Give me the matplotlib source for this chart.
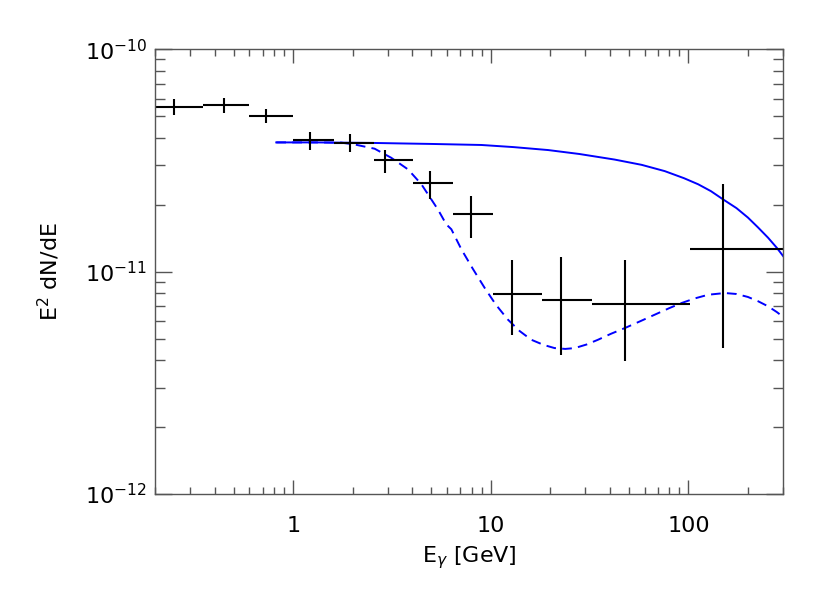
import numpy as np
import matplotlib
matplotlib.use('Agg')
from matplotlib import pyplot as plt
from matplotlib.ticker import FixedLocator, FixedFormatter, LogLocator, NullFormatter, LogFormatterSciNotation

# data points (bin centre, bin edges, flux, error range)
e_cen = [0.249, 0.444, 0.724, 1.21, 1.94, 2.91, 4.94, 7.96, 12.75, 22.7, 47.8, 150.0]
e_lo = [0.2, 0.349, 0.594, 1.0, 1.61, 2.56, 4.04, 6.44, 10.2, 18.2, 32.4, 102.0]
e_hi = [0.349, 0.594, 1.0, 1.61, 2.56, 4.04, 6.44, 10.2, 18.2, 32.4, 102.0, 320.0]
flux = [5.51e-11, 5.6e-11, 5.03e-11, 3.89e-11, 3.78e-11, 3.16e-11, 2.49e-11, 1.81e-11,
        7.96e-12, 7.48e-12, 7.15e-12, 1.27e-11]
flux_up = [6.0e-11, 6.03e-11, 5.37e-11, 4.24e-11, 4.14e-11, 3.52e-11, 2.84e-11, 2.19e-11,
           1.13e-11, 1.16e-11, 1.13e-11, 2.47e-11]
flux_dn = [5.05e-11, 5.15e-11, 4.67e-11, 3.52e-11, 3.45e-11, 2.78e-11, 2.13e-11, 1.42e-11,
           5.2e-12, 4.22e-12, 3.98e-12, 4.53e-12]

# model curves
solid_e = [0.82, 1.3, 1.75, 2.5, 3.5, 5.0, 8.95, 13.0, 19.5, 28.0, 42.3, 58.0, 75.9, 95.0,
           112.0, 130.0, 150.0, 175.0, 200.0, 225.0, 253.0, 280.0, 307.0]
solid_f = [3.81e-11, 3.81e-11, 3.80e-11, 3.79e-11, 3.77e-11, 3.75e-11, 3.71e-11, 3.63e-11,
           3.52e-11, 3.38e-11, 3.19e-11, 3.02e-11, 2.83e-11, 2.63e-11, 2.47e-11, 2.30e-11,
           2.11e-11, 1.93e-11, 1.75e-11, 1.58e-11, 1.42e-11, 1.28e-11, 1.15e-11]
dash_e = [0.82, 1.3, 1.75, 2.04, 2.58, 3.13, 3.81, 4.45, 5.40, 5.95, 6.31, 7.09, 8.1, 9.30,
          10.6, 12.2, 14.0, 16.0, 18.5, 21.0, 23.8, 26.6, 30.5, 34.9, 40.5, 47.6, 57.0,
          67.5, 80.0, 92.2, 108.0, 126.0, 153.0, 175.0, 200.0, 225.0, 253.0, 280.0, 307.0]
dash_f = [3.81e-11, 3.81e-11, 3.80e-11, 3.73e-11, 3.57e-11, 3.25e-11, 2.88e-11, 2.47e-11,
          1.90e-11, 1.63e-11, 1.55e-11, 1.26e-11, 1.03e-11, 8.45e-12, 7.1e-12, 6.08e-12,
          5.4e-12, 4.94e-12, 4.68e-12, 4.53e-12, 4.49e-12, 4.53e-12, 4.7e-12, 4.94e-12,
          5.25e-12, 5.57e-12, 5.98e-12, 6.4e-12, 6.85e-12, 7.22e-12, 7.58e-12, 7.87e-12,
          8.01e-12, 7.93e-12, 7.69e-12, 7.36e-12, 6.98e-12, 6.58e-12, 6.18e-12]

x_ticks = [1, 10, 100]
x_ticklabels = ['1', '10', '100']
y_ticks = [1e-12, 1e-11, 1e-10]

plt.rcParams['font.family'] = 'DejaVu Sans'
fig = plt.figure(figsize=(8.3, 5.93), dpi=100)
ax = fig.add_axes([0.187, 0.167, 0.756, 0.750])

ax.plot(solid_e, solid_f, color='#0000ff', lw=1.4)
ax.plot(dash_e, dash_f, color='#0000ff', lw=1.4, dashes=(5, 3.2))

xc = np.array(e_cen)
f = np.array(flux)
xerr = [xc - np.array(e_lo), np.array(e_hi) - xc]
yerr = [f - np.array(flux_dn), np.array(flux_up) - f]
ax.errorbar(xc, f, xerr=xerr, yerr=yerr, fmt='none', ecolor='black', elinewidth=1.5, capsize=0)

ax.set_xscale('log')
ax.set_yscale('log')
ax.set_xlim(0.2, 300)
ax.set_ylim(1e-12, 1e-10)

ax.xaxis.set_major_locator(FixedLocator(x_ticks))
ax.xaxis.set_major_formatter(FixedFormatter(x_ticklabels))
ax.xaxis.set_minor_locator(LogLocator(base=10, subs=np.arange(2, 10), numticks=20))
ax.xaxis.set_minor_formatter(NullFormatter())
ax.yaxis.set_major_locator(FixedLocator(y_ticks))
ax.yaxis.set_major_formatter(LogFormatterSciNotation())
ax.yaxis.set_minor_locator(LogLocator(base=10, subs=np.arange(2, 10), numticks=20))
ax.yaxis.set_minor_formatter(NullFormatter())

for s in ax.spines.values():
    s.set_color('#555555')
    s.set_linewidth(1.0)
ax.tick_params(which='both', direction='in', top=True, right=True, colors='#555555',
               labelcolor='black', labelsize=16, width=1.0)
ax.tick_params(axis='x', which='major', length=10, pad=16)
ax.tick_params(axis='x', which='minor', length=5)
ax.tick_params(axis='y', which='major', length=12, pad=6)
ax.tick_params(axis='y', which='minor', length=7)

ax.set_xlabel(r'E$_\gamma$ [GeV]', fontsize=16, labelpad=6)
ax.set_ylabel(r'E$^2$ dN/dE', fontsize=16, labelpad=16)

fig.savefig('out.png', dpi=100)
